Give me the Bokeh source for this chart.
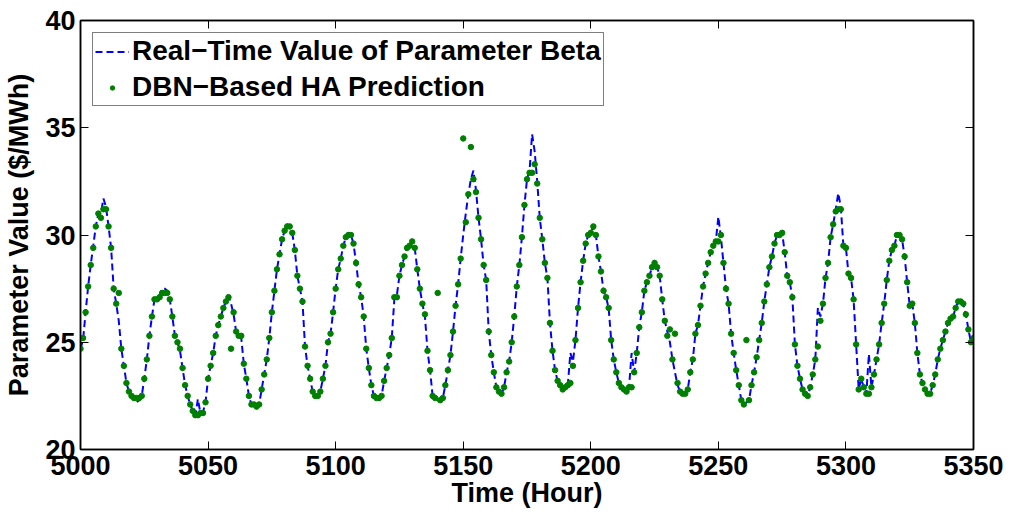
from bokeh.plotting import figure
from bokeh.models import (LinearAxis, FixedTicker, Range1d, Legend, LegendItem,
                          ColumnDataSource, CustomLabelingPolicy)
from bokeh.embed import file_html
from bokeh.resources import INLINE

# Hours 5000..5350
hours = list(range(5000, 5351))

# Real-time value of parameter beta ($/MWh)
beta = [
    24.7,
    25.1, 26.4, 27.6, 28.6, 29.5, 30.4, 31.0, 31.0, 31.7, 31.3,
    30.4, 29.4, 27.5, 26.8, 26.0, 24.7, 23.9, 23.1, 22.7, 22.5,
    22.3, 22.2, 22.3, 22.5, 23.3, 24.2, 25.3, 26.2, 27.0, 27.1,
    27.2, 27.5, 27.5, 27.4, 27.0, 26.2, 25.3, 25.0, 24.6, 23.8,
    23.0, 22.5, 22.1, 21.8, 21.55, 22.35, 21.7, 21.75, 22.2, 23.3,
    23.9, 24.5, 25.3, 25.8, 26.2, 26.6, 26.9, 27.2, 26.8, 26.3,
    25.5, 25.3, 25.2, 24.0, 23.3, 22.5, 22.1, 22.0, 21.9, 22.1,
    22.8, 23.5, 24.2, 25.2, 26.4, 27.4, 28.4, 29.1, 29.8, 30.2,
    30.5, 30.4, 30.1, 29.3, 28.1, 27.5, 26.9, 24.8, 23.9, 23.3,
    22.7, 22.5, 22.5, 22.7, 23.3, 23.9, 25.0, 25.4, 26.4, 27.5,
    28.4, 28.9, 29.5, 29.9, 30.1, 30.0, 29.6, 28.7, 27.7, 27.1,
    26.2, 24.7, 23.8, 23.0, 22.5, 22.4, 22.3, 22.5, 23.2, 23.8,
    24.4, 25.2, 27.0, 27.2, 28.1, 28.6, 29.0, 29.4, 29.6, 29.8,
    29.4, 28.4, 27.5, 26.8, 26.2, 24.6, 23.7, 22.5, 22.4, 22.3,
    22.3, 22.4, 23.0, 23.7, 24.4, 25.5, 26.7, 27.7, 28.9, 30.0,
    31.0, 31.9, 32.6, 33.0, 32.1, 30.8, 29.8, 28.6, 27.9, 25.5,
    24.4, 23.6, 22.9, 22.7, 22.6, 22.9, 23.6, 24.1, 25.0, 26.2,
    27.6, 28.6, 29.9, 31.4, 32.6, 33.0, 34.7, 33.9, 32.5, 30.8,
    29.8, 28.7, 28.0, 25.9, 24.6, 23.7, 23.2, 23.0, 22.8, 22.9,
    23.0, 24.5, 24.1, 25.1, 26.6, 27.8, 28.8, 29.6, 30.0, 30.1,
    30.4, 30.0, 29.0, 28.3, 27.4, 27.1, 26.6, 25.1, 24.2, 23.6,
    23.1, 22.9, 22.8, 22.7, 22.9, 24.5, 23.6, 24.5, 25.7, 26.4,
    27.4, 27.8, 28.1, 28.5, 28.8, 28.5, 28.1, 27.0, 26.0, 25.5,
    25.0, 24.2, 23.6, 23.0, 22.7, 22.6, 22.6, 22.8, 23.6, 24.2,
    25.4, 25.8, 26.7, 27.6, 28.2, 28.7, 29.2, 29.5, 29.7, 30.85,
    29.9, 28.7, 27.5, 26.8, 25.4, 24.5, 23.7, 23.0, 22.3, 22.1,
    22.2, 22.3, 23.0, 23.6, 24.3, 25.1, 25.9, 26.9, 27.7, 28.5,
    29.0, 29.6, 30.0, 30.1, 30.1, 29.2, 28.1, 27.8, 27.1, 24.9,
    23.9, 23.3, 22.8, 22.6, 22.5, 22.9, 23.5, 24.2, 26.6, 26.2,
    26.8, 28.0, 28.7, 29.9, 30.5, 31.2, 31.95, 31.3, 29.5, 29.4,
    28.2, 28.0, 27.0, 24.9, 22.8, 23.3, 22.9, 22.6, 24.45, 22.9,
    23.5, 24.2, 24.9, 25.9, 26.8, 27.9, 28.8, 29.3, 29.5, 30.0,
    30.0, 29.8, 29.0, 27.8, 26.7, 26.8, 25.9, 24.5, 23.5, 23.1,
    22.8, 22.6, 22.6, 23.0, 23.5, 24.2, 24.7, 25.1, 25.5, 25.9,
    26.1, 26.2, 26.6, 26.9, 27.0, 26.8, 26.3, 25.6, 25.0, 25.2,
]

# DBN-based hour-ahead prediction ($/MWh)
pred = [
    24.7,
    25.2, 26.4, 27.6, 28.6, 29.4, 30.4, 31.0, 30.8, 31.2, 31.2,
    30.4, 29.4, 27.5, 26.8, 27.3, 24.7, 23.9, 23.1, 22.7, 22.5,
    22.4, 22.4, 22.4, 22.5, 23.3, 24.2, 25.3, 26.2, 27.0, 27.0,
    27.1, 27.3, 27.3, 27.3, 27.0, 26.2, 25.3, 25.0, 24.7, 23.8,
    23.0, 22.5, 22.1, 21.8, 21.6, 21.6, 21.7, 21.7, 22.2, 23.3,
    23.9, 24.5, 25.3, 25.8, 26.2, 26.6, 26.9, 27.1, 24.7, 26.4,
    25.5, 25.3, 25.3, 24.0, 23.3, 22.5, 22.1, 22.1, 22.0, 22.1,
    22.8, 23.5, 24.2, 25.2, 26.4, 27.4, 28.4, 29.1, 29.8, 30.2,
    30.4, 30.4, 30.1, 29.3, 28.1, 27.5, 26.9, 24.8, 23.9, 23.3,
    22.7, 22.5, 22.5, 22.7, 23.3, 23.9, 25.0, 25.4, 26.4, 27.5,
    28.4, 28.9, 29.5, 29.9, 30.0, 30.0, 29.6, 28.7, 27.7, 27.1,
    26.2, 24.7, 23.8, 23.0, 22.5, 22.4, 22.4, 22.5, 23.2, 23.8,
    24.4, 25.2, 27.1, 27.1, 28.1, 28.6, 29.0, 29.4, 29.5, 29.7,
    29.4, 28.4, 27.5, 26.8, 26.3, 24.6, 23.7, 22.5, 22.4, 27.3,
    22.3, 22.4, 23.0, 23.7, 24.4, 25.5, 26.7, 27.7, 28.9, 34.5,
    30.6, 31.9, 34.1, 32.6, 32.0, 30.8, 29.8, 28.6, 27.9, 25.5,
    24.4, 23.6, 22.9, 22.7, 22.6, 22.9, 23.6, 24.1, 25.0, 26.2,
    27.6, 28.6, 29.9, 31.4, 32.6, 32.9, 32.9, 33.3, 32.4, 30.8,
    29.8, 28.7, 28.0, 25.9, 24.6, 23.7, 23.2, 23.0, 22.8, 22.9,
    23.0, 23.1, 23.9, 25.1, 26.6, 27.8, 28.8, 29.6, 30.0, 30.1,
    30.4, 30.0, 29.0, 28.3, 27.4, 27.1, 26.6, 25.1, 24.2, 23.6,
    23.1, 22.9, 22.8, 22.7, 22.9, 22.9, 23.6, 24.5, 25.7, 26.4,
    27.4, 27.8, 28.1, 28.5, 28.7, 28.5, 28.1, 27.0, 26.0, 25.3,
    25.6, 24.2, 25.4, 23.1, 22.7, 22.6, 22.6, 22.8, 23.6, 24.2,
    25.4, 25.8, 26.7, 27.6, 28.2, 28.7, 29.2, 29.5, 29.7, 29.7,
    30.0, 28.7, 27.5, 26.8, 25.4, 24.5, 23.7, 23.0, 22.3, 22.1,
    25.1, 22.3, 23.0, 23.6, 24.3, 25.1, 25.9, 26.9, 27.7, 28.5,
    29.0, 29.6, 30.0, 30.0, 30.1, 29.2, 28.1, 27.8, 27.1, 24.9,
    23.9, 23.3, 22.8, 22.6, 22.5, 22.9, 23.5, 24.2, 24.8, 26.0,
    26.8, 28.0, 28.7, 29.9, 30.5, 31.1, 31.2, 31.2, 29.5, 29.4,
    28.2, 28.0, 27.0, 24.9, 22.8, 23.3, 22.9, 22.6, 22.6, 22.9,
    23.5, 24.2, 24.9, 25.9, 26.8, 27.9, 28.8, 29.3, 29.5, 30.0,
    30.0, 29.8, 29.0, 27.8, 26.7, 26.8, 25.9, 24.5, 23.5, 23.1,
    22.8, 22.6, 22.6, 23.0, 23.5, 24.2, 24.7, 25.1, 25.5, 25.9,
    26.1, 26.2, 26.6, 26.9, 26.9, 26.8, 26.3, 25.6, 25.0, 25.2,
]

x_ticks = [5000, 5050, 5100, 5150, 5200, 5250, 5300, 5350]
y_ticks = [20, 25, 30, 35, 40]

FONT = "Liberation Sans"

src = ColumnDataSource(data=dict(hour=hours, beta=beta, pred=pred))

p = figure(width=1013, height=514,
           x_range=Range1d(5000, 5350), y_range=Range1d(20, 40),
           output_backend="svg", toolbar_location=None,
           min_border_left=80, min_border_right=40,
           min_border_top=20, min_border_bottom=65)

p.xgrid.visible = False
p.ygrid.visible = False
p.outline_line_color = "black"
p.outline_line_width = 1.5
p.background_fill_color = "white"
p.border_fill_color = "white"

line_r = p.line("hour", "beta", source=src, line_color="#0000ff",
                line_width=2, line_dash="7 4")
dot_r = p.scatter("hour", "pred", source=src, size=5.5,
                  fill_color="#008000", line_color="#008000")

xa = p.xaxis[0]
xa.ticker = FixedTicker(ticks=x_ticks)
ya = p.yaxis[0]
ya.ticker = FixedTicker(ticks=y_ticks)
for ax in (xa, ya):
    ax.axis_line_color = "black"
    ax.axis_line_width = 1.5
    ax.major_tick_in = 8
    ax.major_tick_out = 0
    ax.major_tick_line_color = "black"
    ax.minor_tick_in = 0
    ax.minor_tick_out = 0
    ax.major_label_text_font = FONT
    ax.major_label_text_font_style = "bold"
    ax.major_label_text_color = "black"
    ax.major_label_text_font_size = "27px"
    ax.axis_label_text_font = FONT
    ax.axis_label_text_font_style = "bold"
    ax.axis_label_text_color = "black"
    ax.axis_label_text_font_size = "27px"

xa.axis_label = "Time (Hour)"
xa.major_label_standoff = 6
xa.axis_label_standoff = 0
ya.axis_label = "Parameter Value ($/MWh)"
ya.major_label_standoff = 5
ya.axis_label_standoff = 8

# mirrored tick marks on the top and right sides (no labels)
hide_all = CustomLabelingPolicy(code="""
const n = indices.size;
for (let i = 0; i < n; i++) { indices.unset(i); }
return indices;
""")
top = LinearAxis(ticker=FixedTicker(ticks=x_ticks), major_label_policy=hide_all)
right = LinearAxis(ticker=FixedTicker(ticks=y_ticks),
                   major_label_policy=CustomLabelingPolicy(code=hide_all.code))
for ax in (top, right):
    ax.axis_line_color = "black"
    ax.axis_line_width = 1.5
    ax.major_tick_in = 8
    ax.major_tick_out = 0
    ax.major_tick_line_color = "black"
    ax.minor_tick_in = 0
    ax.minor_tick_out = 0
    ax.major_label_text_font_size = "2px"
    ax.major_label_standoff = 0
p.add_layout(top, "above")
p.add_layout(right, "right")

legend = Legend(items=[
    LegendItem(label="Real\u2212Time Value of Parameter Beta", renderers=[line_r]),
    LegendItem(label="DBN\u2212Based HA Prediction", renderers=[dot_r]),
], location="top_left")
legend.margin = 12
legend.padding = 2
legend.spacing = 4
legend.glyph_width = 34
legend.glyph_height = 11
legend.label_height = 32
legend.label_standoff = 3
legend.label_text_font = FONT
legend.label_text_font_style = "bold"
legend.label_text_font_size = "28px"
legend.label_text_color = "black"
legend.border_line_color = "black"
legend.border_line_width = 1.5
legend.background_fill_color = "white"
legend.background_fill_alpha = 1.0
p.add_layout(legend, "center")

open("out.html", "w").write(file_html(p, INLINE))
